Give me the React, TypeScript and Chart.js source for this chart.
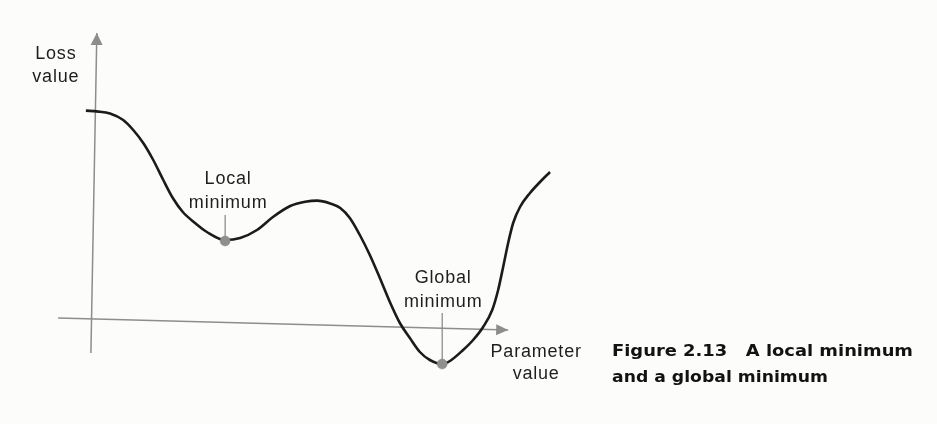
import React, { useEffect, useRef } from "react";
import { Chart, registerables } from "chart.js";

Chart.register(...registerables);

// Loss curve (parameter value -> loss value)
const paramValues = [
  -0.2, 0.04, 0.33, 0.62, 0.84, 1.06, 1.28, 1.5, 1.71, 1.93, 2.2, 2.46, 2.86,
  3.19, 3.56, 3.91, 4.29, 4.62, 4.88, 5.17, 5.39, 5.6, 5.82, 6.04, 6.26, 6.48,
  6.7, 6.92, 7.14, 7.36, 7.63, 7.8, 8.09, 8.31, 8.53, 8.73, 8.86, 8.97, 9.08,
  9.19, 9.34, 9.56, 9.78, 10.0,
];
const lossValues = [
  10.72, 10.68, 10.58, 10.25, 9.75, 9.1, 8.25, 7.25, 6.35, 5.65, 5.1, 4.65, 4.25,
  4.35, 4.75, 5.4, 5.95, 6.16, 6.22, 6.08, 5.85, 5.35, 4.5, 3.5, 2.35, 1.15, 0.1,
  -0.65, -1.35, -1.75, -1.95, -1.8, -1.25, -0.75, -0.1, 0.75, 1.75, 2.9, 4.1,
  5.1, 5.9, 6.6, 7.15, 7.65,
];

// Marked minima
const minimaParams = [2.86, 7.63];
const minimaLoss = [4.2, -1.95];
const minimaLabels = [
  ["Local", "minimum"],
  ["Global", "minimum"],
];

// Axis lines (start -> arrow tip), in data units
const yAxisParams = [-0.09, 0.04];
const yAxisLoss = [-1.4, 14.6];
const xAxisParams = [-0.81, 9.08];
const xAxisLoss = [0.35, -0.25];

const yAxisTitle = ["Loss", "value"];
const xAxisTitle = ["Parameter", "value"];
const caption = ["Figure 2.13   A local minimum", "and a global minimum"];

const AXIS_GRAY = "#8d8d8d";
const TEXT = "#1e1e1e";
const LABEL_FONT = "18px 'Liberation Sans', Arial, sans-serif";

function drawArrow(ctx: CanvasRenderingContext2D, x0: number, y0: number, x1: number, y1: number, len: number, half: number) {
  const a = Math.atan2(y1 - y0, x1 - x0);
  const c = Math.cos(a), s = Math.sin(a);
  const bx = x1 - c * len, by = y1 - s * len;
  ctx.beginPath();
  ctx.moveTo(x1, y1);
  ctx.lineTo(bx - s * half, by + c * half);
  ctx.lineTo(bx + s * half, by - c * half);
  ctx.closePath();
  ctx.fillStyle = AXIS_GRAY;
  ctx.fill();
}

function drawLinesCentered(ctx: CanvasRenderingContext2D, lines: string[], cx: number, baseline: number, lh: number) {
  ctx.save();
  ctx.font = LABEL_FONT;
  (ctx as any).letterSpacing = "0.8px";
  ctx.fillStyle = TEXT;
  ctx.textAlign = "center";
  ctx.textBaseline = "alphabetic";
  lines.forEach((t, i) => ctx.fillText(t, cx, baseline + i * lh));
  ctx.restore();
}

const annotate = {
  id: "annotate",
  beforeDraw(chart: any) {
    const { ctx, width, height } = chart;
    ctx.save();
    ctx.fillStyle = "#fcfcfb";
    ctx.fillRect(0, 0, width, height);
    ctx.restore();
  },
  beforeDatasetsDraw(chart: any) {
    const { ctx, scales } = chart;
    const sx = scales.x, sy = scales.y;
    ctx.save();
    ctx.strokeStyle = "#7a7a7a";
    ctx.lineWidth = 1.1;
    const tickSpans = [
      [26, 4],
      [51, 3],
    ];
    minimaParams.forEach((p, i) => {
      const px = sx.getPixelForValue(p);
      const py = sy.getPixelForValue(minimaLoss[i]);
      ctx.beginPath();
      ctx.moveTo(px, py - tickSpans[i][0]);
      ctx.lineTo(px, py - tickSpans[i][1]);
      ctx.stroke();
    });
    ctx.restore();
  },
  afterDatasetsDraw(chart: any) {
    const { ctx, scales, chartArea } = chart;
    const sx = scales.x, sy = scales.y;

    // arrowheads
    const yx0 = sx.getPixelForValue(yAxisParams[0]), yy0 = sy.getPixelForValue(yAxisLoss[0]);
    const yx1 = sx.getPixelForValue(yAxisParams[1]), yy1 = sy.getPixelForValue(yAxisLoss[1]);
    drawArrow(ctx, yx0, yy0, yx1, yy1, 12, 6);
    const xx0 = sx.getPixelForValue(xAxisParams[0]), xy0 = sy.getPixelForValue(xAxisLoss[0]);
    const xx1 = sx.getPixelForValue(xAxisParams[1]), xy1 = sy.getPixelForValue(xAxisLoss[1]);
    drawArrow(ctx, xx0, xy0, xx1, xy1, 12, 5.5);

    // axis titles
    drawLinesCentered(ctx, yAxisTitle, yx1 - 41, yy1 + 26, 23);
    drawLinesCentered(ctx, xAxisTitle, xx1 + 28, xy1 + 27, 22);

    // minima labels
    const offs = [
      [3, -57],
      [1, -81],
    ];
    minimaParams.forEach((p, i) => {
      const px = sx.getPixelForValue(p);
      const py = sy.getPixelForValue(minimaLoss[i]);
      drawLinesCentered(ctx, minimaLabels[i], px + offs[i][0], py + offs[i][1], 24);
    });

    // caption
    ctx.save();
    ctx.font = "bold 15px 'DejaVu Sans', 'Liberation Sans', Arial, sans-serif";
    ctx.fillStyle = "#121212";
    ctx.textAlign = "left";
    ctx.textBaseline = "alphabetic";
    const left = chartArea.left + 612;
    const baselines = [chartArea.top + 356, chartArea.top + 382];
    const targetW = [301, 216];
    caption.forEach((t, i) => {
      const w = ctx.measureText(t).width;
      ctx.save();
      ctx.translate(left, baselines[i]);
      ctx.scale(targetW[i] / w, 1);
      ctx.fillText(t, 0, 0);
      ctx.restore();
    });
    ctx.restore();
  },
};

export default function App() {
  const ref = useRef<HTMLCanvasElement | null>(null);

  useEffect(() => {
    if (!ref.current) return;
    const toPts = (xs: number[], ys: number[]) => xs.map((x, i) => ({ x, y: ys[i] }));
    const chart = new Chart(ref.current, {
      type: "scatter",
      data: {
        datasets: [
          {
            label: "minima",
            data: toPts(minimaParams, minimaLoss),
            showLine: false,
            pointRadius: 5,
            pointBackgroundColor: "#8f8f8f",
            pointBorderColor: "#8a8a8a",
            pointBorderWidth: 0.5,
            order: 0,
          },
          {
            label: "loss",
            data: toPts(paramValues, lossValues),
            showLine: true,
            borderColor: "#1b1b1b",
            borderWidth: 2.6,
            pointRadius: 0,
            cubicInterpolationMode: "monotone",
            fill: false,
            order: 1,
          },
          {
            label: "y axis",
            data: toPts(yAxisParams, yAxisLoss),
            showLine: true,
            borderColor: AXIS_GRAY,
            borderWidth: 1.5,
            pointRadius: 0,
            order: 2,
          },
          {
            label: "x axis",
            data: toPts(xAxisParams, xAxisLoss),
            showLine: true,
            borderColor: AXIS_GRAY,
            borderWidth: 1.5,
            pointRadius: 0,
            order: 2,
          },
        ],
      },
      options: {
        responsive: false,
        animation: false,
        layout: { padding: 0, autoPadding: false },
        plugins: {
          legend: { display: false },
          tooltip: { enabled: false },
          title: { display: false },
        },
        events: [],
        scales: {
          x: { type: "linear", display: false, min: -2.088, max: 18.505 },
          y: { type: "linear", display: false, min: -4.95, max: 16.25 },
        },
      },
      plugins: [annotate],
    });
    return () => chart.destroy();
  }, []);

  return (
    <div style={{ position: "fixed", left: 0, top: 0, width: 937, height: 424, background: "#fcfcfb" }}>
      <canvas ref={ref} width={937} height={424} />
    </div>
  );
}
